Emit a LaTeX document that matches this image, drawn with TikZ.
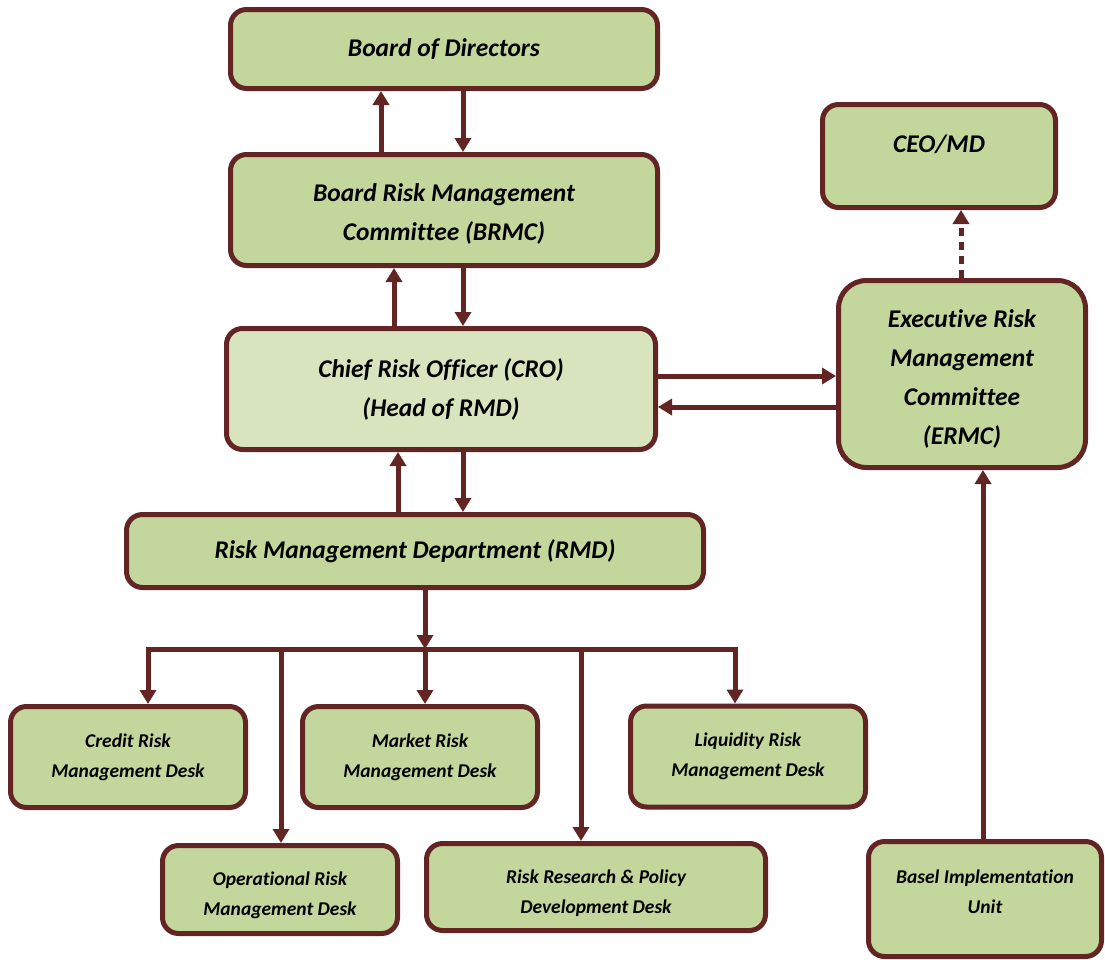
\documentclass[tikz,border=0pt]{standalone}
\usepackage{fontspec}
\setmainfont[Ligatures=NoCommon]{Carlito}
\usetikzlibrary{arrows.meta}

\definecolor{boxgreen}{HTML}{C3D69B}
\definecolor{crogreen}{HTML}{D7E4BD}
\definecolor{riskred}{HTML}{632523}

\begin{document}
\begin{tikzpicture}[x=0.5pt, y=-0.5pt,
    box/.style={draw=riskred, fill=boxgreen, line width=2.5pt, rounded corners=8pt,
      align=center, inner sep=0pt, font=\bfseries\itshape\fontsize{12.75}{19.5}\selectfont},
    desk/.style={box, minimum width=117.5pt, minimum height=50.5pt,
      font=\bfseries\itshape\fontsize{9.75}{15}\selectfont},
    link/.style={draw=riskred, line width=2.5pt},
    arr/.style={link, -{Triangle[width=8pt, length=7pt]}}
    ]
    \useasboundingbox (0,0) rectangle (1105,960);
    \clip (0,0) rectangle (1105,960);

    % board and committees
    \node[box, minimum width=213.5pt, minimum height=39.5pt] (bod) at (444,49) {Board of Directors};
    \node[box, minimum width=213.5pt, minimum height=55.5pt, text height=32.5pt] (brmc) at (444,210) {Board Risk Management\\Committee (BRMC)};
    \node[box, fill=crogreen, minimum width=214.5pt, minimum height=60.5pt] (cro) at (441,389) {Chief Risk Officer (CRO)\\(Head of RMD)};
    \node[box, minimum width=116.5pt, minimum height=51.5pt, text depth=12pt] (ceo) at (939,156) {CEO/MD};
    \node[box, rounded corners=14pt, minimum width=123.5pt, minimum height=93.5pt, text height=72.5pt] (ermc) at (962,374) {Executive Risk\\Management\\Committee\\(ERMC)};
    \node[box, minimum width=288.5pt, minimum height=36.5pt] (rmd) at (415,551) {Risk Management Department (RMD)};

    % desks
    \node[desk] (credit) at (128,757) {Credit Risk\\Management Desk};
    \node[desk] (market) at (420,757) {Market Risk\\Management Desk};
    \node[desk] (liquidity) at (748,756.5) {Liquidity Risk\\Management Desk};
    \node[desk, minimum height=44pt, text height=28pt] (oprisk) at (280,889.5) {Operational Risk\\Management Desk};
    \node[desk, minimum width=169.5pt, minimum height=43.5pt, text height=28pt] (research) at (596,887) {Risk Research \& Policy\\Development Desk};
    \node[desk, minimum width=116.5pt, minimum height=57.5pt, text depth=7.5pt] (basel) at (985,899) {Basel Implementation\\Unit};

    % reporting lines
    \draw[arr] (381,0 |- brmc.north) -- (381,0 |- bod.south);
    \draw[arr] (463,0 |- bod.south) -- (463,0 |- brmc.north);
    \draw[arr] (394,0 |- cro.north) -- (394,0 |- brmc.south);
    \draw[arr] (463,0 |- brmc.south) -- (463,0 |- cro.north);
    \draw[arr] (398,0 |- rmd.north) -- (398,0 |- cro.south);
    \draw[arr] (463,0 |- cro.south) -- (463,0 |- rmd.north);
    \draw[arr] (cro.east |- 0,376) -- (ermc.west |- 0,376);
    \draw[arr] (ermc.west |- 0,407) -- (cro.east |- 0,407);
    \draw[arr, dash pattern=on 4pt off 3pt] (961,0 |- ermc.north) -- (961,0 |- ceo.south);
    \draw[arr] (983,0 |- basel.north) -- (983,0 |- ermc.south);

    % RMD to the desks
    \coordinate (bus) at (425,649);
    \draw[arr] (rmd.south -| bus) -- (bus);
    \draw[arr] (bus) -| (148,0 |- credit.north);
    \draw[arr] (bus) -| (735,0 |- liquidity.north);
    \draw[arr] (bus) -- (market.north -| bus);
    \draw[arr] (281,0 |- bus) -- (281,0 |- oprisk.north);
    \draw[arr] (581,0 |- bus) -- (581,0 |- research.north);
  \end{tikzpicture}
\end{document}
